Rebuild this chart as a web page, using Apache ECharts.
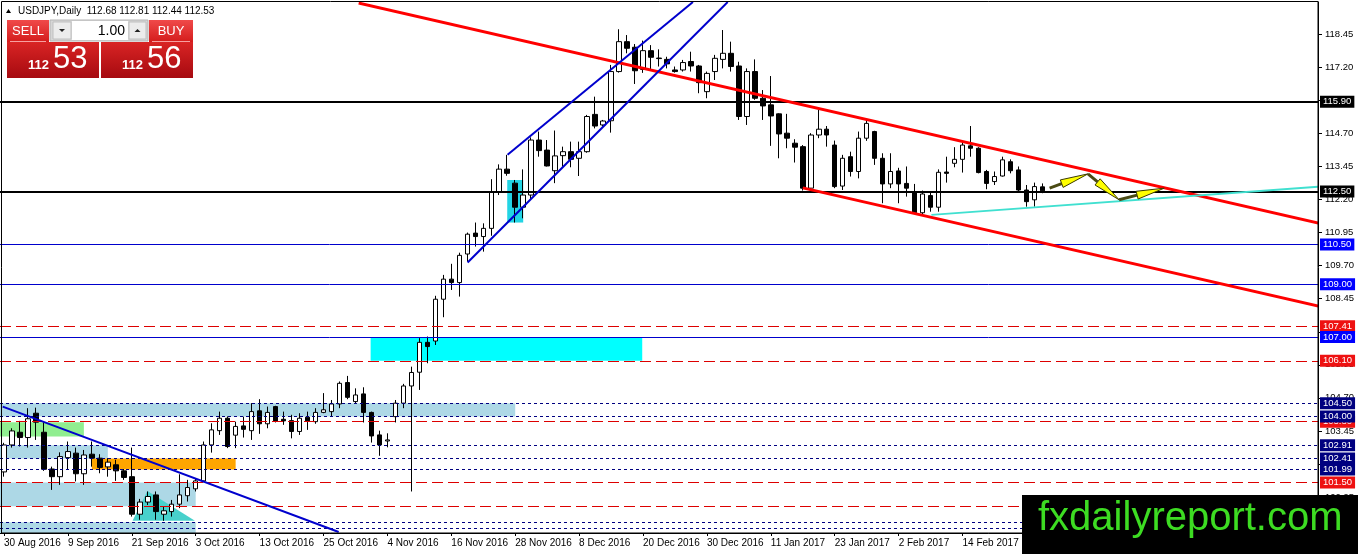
<!DOCTYPE html>
<html>
<head>
<meta charset="utf-8">
<title>USDJPY, Daily</title>
<script src="https://cdn.jsdelivr.net/npm/echarts@6.0.0/dist/echarts.min.js"></script>
<style>
  html, body { margin: 0; padding: 0; background: #fff; }
  #chart { width: 1358px; height: 554px; }
</style>
</head>
<body>
<div id="chart"></div>
<script>
// daily bars 30 Aug 2016 .. 28 Feb 2017, rows are [open, high, low, close]
const ohlc = [
  [101.90, 103.00, 101.72, 102.92], [102.92, 103.55, 102.82, 103.45], [103.40, 103.83, 102.86, 103.20],
  [103.20, 104.31, 102.82, 103.91], [104.12, 104.33, 103.11, 103.78], [103.40, 103.78, 101.94, 102.00],
  [102.01, 102.10, 101.22, 101.72], [101.72, 102.64, 101.41, 102.48], [102.44, 103.05, 101.98, 102.67],
  [102.61, 102.82, 101.54, 101.83], [101.83, 102.73, 101.41, 102.54], [102.57, 103.05, 102.10, 102.42],
  [102.42, 102.57, 101.85, 102.07], [102.09, 102.42, 101.72, 102.27], [102.17, 102.36, 101.56, 101.94],
  [101.94, 102.01, 101.60, 101.69], [101.72, 102.82, 100.21, 100.30], [100.30, 100.88, 100.09, 100.76],
  [100.76, 101.16, 100.65, 100.97], [101.03, 101.16, 100.09, 100.40], [100.30, 100.59, 100.05, 100.43],
  [100.40, 100.84, 100.21, 100.68], [100.68, 101.81, 100.53, 101.03], [101.00, 101.60, 100.78, 101.31],
  [101.26, 101.66, 101.16, 101.56], [101.56, 103.05, 101.51, 102.92], [102.92, 103.74, 102.63, 103.49],
  [103.46, 104.18, 103.30, 103.93], [103.93, 104.00, 102.80, 102.86], [103.29, 103.80, 102.80, 103.62],
  [103.64, 103.99, 103.20, 103.51], [103.46, 104.50, 103.11, 104.18], [104.21, 104.65, 103.34, 103.72],
  [103.72, 104.37, 103.55, 104.15], [104.37, 104.40, 103.77, 103.83], [103.89, 104.18, 103.68, 103.83],
  [103.84, 104.06, 103.17, 103.43], [103.43, 104.12, 103.30, 103.93], [103.97, 104.18, 103.49, 103.83],
  [103.80, 104.31, 103.72, 104.15], [104.15, 104.88, 104.12, 104.25], [104.18, 104.62, 103.99, 104.47],
  [104.47, 105.32, 104.31, 105.25], [105.28, 105.53, 104.65, 104.72], [104.56, 105.06, 104.47, 104.81],
  [104.85, 105.10, 103.77, 104.15], [104.15, 104.18, 103.01, 103.26], [103.30, 103.46, 102.51, 102.92],
  [103.07, 103.36, 102.83, 103.11], [103.99, 104.62, 103.77, 104.50], [104.50, 105.23, 104.31, 105.15],
  [105.15, 105.88, 101.16, 105.66], [105.67, 106.96, 105.00, 106.80], [106.80, 107.02, 106.01, 106.64],
  [106.85, 108.56, 106.70, 108.43], [108.43, 109.35, 107.75, 109.19], [109.19, 109.77, 108.78, 109.06],
  [109.06, 110.19, 108.53, 110.09], [110.14, 110.95, 109.85, 110.89], [110.93, 111.33, 110.42, 110.80],
  [110.80, 111.30, 110.23, 111.11], [111.11, 112.97, 110.83, 112.48], [112.48, 113.53, 112.37, 113.35],
  [113.35, 113.89, 113.10, 113.19], [112.82, 112.94, 111.33, 111.91], [111.91, 113.34, 111.49, 112.37],
  [112.37, 114.55, 112.20, 114.45], [114.45, 114.77, 113.82, 114.05], [114.07, 114.45, 113.45, 113.47],
  [113.29, 114.81, 112.82, 113.85], [113.86, 114.20, 113.44, 114.01], [114.01, 114.39, 113.42, 113.72],
  [113.76, 114.39, 113.09, 114.01], [114.01, 115.40, 113.97, 115.34], [115.42, 116.09, 114.89, 114.98],
  [115.02, 115.21, 114.96, 115.17], [115.18, 117.29, 114.73, 117.04], [117.04, 118.64, 117.00, 118.17],
  [118.17, 118.42, 117.73, 117.92], [117.96, 118.08, 116.57, 117.07], [117.12, 118.21, 116.99, 117.83],
  [117.83, 118.04, 117.12, 117.58], [117.55, 117.88, 117.23, 117.53], [117.50, 117.60, 117.16, 117.33],
  [117.10, 117.23, 117.00, 117.04], [117.10, 117.48, 117.04, 117.38], [117.42, 117.79, 117.04, 117.25],
  [117.25, 117.29, 116.22, 116.62], [116.28, 117.04, 116.03, 116.97], [117.04, 117.67, 116.72, 117.54],
  [117.50, 118.61, 117.16, 117.73], [117.73, 118.17, 117.04, 117.23], [117.25, 117.41, 115.21, 115.34],
  [115.34, 117.16, 115.02, 117.04], [117.04, 117.50, 115.97, 116.03], [116.03, 116.34, 115.21, 115.74],
  [115.78, 116.87, 114.23, 115.36], [115.44, 115.46, 113.76, 114.68], [114.71, 115.44, 114.14, 114.52],
  [114.33, 114.48, 113.60, 114.18], [114.20, 114.26, 112.54, 112.63], [112.63, 114.71, 112.60, 114.64],
  [114.64, 115.59, 114.52, 114.86], [114.86, 114.98, 114.20, 114.64], [114.26, 114.43, 112.63, 112.69],
  [112.71, 113.89, 112.56, 113.76], [113.82, 114.01, 113.07, 113.26], [113.26, 114.77, 113.00, 114.52],
  [114.52, 115.25, 114.42, 115.08], [114.77, 114.80, 113.51, 113.76], [113.76, 113.95, 112.06, 112.79],
  [112.79, 113.95, 112.63, 113.26], [113.28, 113.40, 112.06, 112.79], [112.81, 113.45, 112.31, 112.63],
  [112.50, 112.79, 111.68, 111.70], [111.70, 112.54, 111.58, 112.41], [112.35, 112.50, 111.74, 111.91],
  [111.91, 113.34, 111.74, 113.23], [113.24, 113.82, 112.84, 113.19], [113.57, 114.18, 113.42, 113.72],
  [113.72, 114.39, 113.22, 114.26], [114.23, 114.98, 113.82, 114.14], [114.14, 114.18, 113.19, 113.22],
  [113.26, 113.32, 112.59, 112.81], [112.88, 113.26, 112.75, 113.07], [113.09, 113.82, 113.07, 113.70],
  [113.63, 113.72, 113.19, 113.29], [113.32, 113.45, 112.50, 112.56], [112.56, 112.75, 111.93, 112.12],
  [112.19, 112.84, 111.93, 112.69], [112.68, 112.81, 112.44, 112.53]
];

// one date label every 8 bars, starting at bar 0
const dateLabels = [
  '30 Aug 2016', '9 Sep 2016', '21 Sep 2016', '3 Oct 2016', '13 Oct 2016', '25 Oct 2016',
  '4 Nov 2016', '16 Nov 2016', '28 Nov 2016', '8 Dec 2016', '20 Dec 2016', '30 Dec 2016',
  '11 Jan 2017', '23 Jan 2017', '2 Feb 2017', '14 Feb 2017'
];

const priceTicks = [118.45, 117.20, 115.95, 114.70, 113.45, 112.20, 110.95, 109.70,
  108.45, 107.20, 105.95, 104.70, 103.45, 102.20, 100.95, 99.70];

// horizontal levels: [price, kind, label shown]
const levels = [
  [115.90, 'black', true], [112.50, 'black', true], [110.50, 'blue', true], [109.00, 'blue', true],
  [107.41, 'red', true], [107.00, 'blue', true], [106.10, 'red', true], [104.50, 'navy', true],
  [103.80, 'red', true], [104.00, 'navy', true], [102.91, 'navy', true], [102.41, 'navy', true],
  [101.99, 'navy', true], [101.50, 'red', true], [100.60, 'red', false], [100.00, 'navy', false],
  [99.77, 'navy', false]
];

// rectangles: [from bar, to bar, low, high, colour]
const zones = [
  [-1, 64, 104.00, 104.50, '#add8e6'],
  [-1, 13, 102.41, 102.91, '#add8e6'],
  [-1, 24, 100.60, 101.50, '#add8e6'],
  [-1, 24, 99.50, 100.00, '#add8e6'],
  [-1, 10, 103.24, 103.78, '#90ee90'],
  [11, 29, 101.99, 102.41, '#ffa500'],
  [45.9, 79.9, 106.10, 107.00, '#00ffff'],
  [63.0, 65.0, 111.33, 112.94, '#22d4e4']
];

// triangle [bar, price] corners
const triangles = [
  [[16.1, 100.05], [17.96, 101.18], [23.9, 100.05]]
];

// trend lines: [bar1, price1, bar2, price2, colour, width, extend right]
const trendLines = [
  [44.4, 119.63, 164.4, 111.32, '#ff0000', 3, true],
  [100.0, 112.64, 164.4, 108.18, '#ff0000', 3, true],
  [63.04, 113.89, 86.25, 119.67, '#0000cd', 2, false],
  [58.04, 109.82, 90.6, 119.67, '#0000cd', 2, false],
  [-0.16, 104.37, 41.9, 99.63, '#0000cd', 2, false],
  [116.1, 111.62, 164.4, 112.68, '#40e0d0', 2, true]
];

// projected path arrows: [bar1, price1, bar2, price2]
const arrows = [
  [130.9, 112.63, 135.7, 113.17],
  [135.7, 113.17, 139.6, 112.19],
  [139.6, 112.19, 145.25, 112.63]
];

const barCount = 165;
const categories = Array.from({ length: barCount }, (_, i) => String(i));
const font = 'Liberation Sans, Arial, sans-serif';

const levelStyle = {
  black: { color: '#000000', width: 2, type: 'solid', bg: '#000000' },
  blue: { color: '#0000cd', width: 1, type: 'solid', bg: '#0000ff' },
  red: { color: '#dd0000', width: 1, type: [11, 5], bg: '#ee1111' },
  navy: { color: '#000080', width: 1, type: [3, 3], bg: '#000080' }
};

// bar index (may be fractional) + price -> pixel
function px(api, bar, price) {
  const base = api.coord([0, price]);
  return [base[0] + bar * api.size([1, 0])[0], base[1]];
}

const chart = echarts.init(document.getElementById('chart'));

const option = {
  animation: false,
  backgroundColor: '#ffffff',
  grid: { left: -1, right: 40, top: 2, bottom: 21 },
  xAxis: {
    type: 'category',
    data: categories,
    boundaryGap: true,
    axisLine: { lineStyle: { color: '#000', width: 1 } },
    axisTick: {
      show: true, length: 3, alignWithLabel: true,
      interval: (i) => i % 8 === 0 && i / 8 < dateLabels.length,
      lineStyle: { color: '#000' }
    },
    axisLabel: {
      interval: (i) => i % 8 === 0 && i / 8 < dateLabels.length,
      formatter: (v, i) => dateLabels[i / 8] || '',
      align: 'left', margin: 5,
      color: '#000', fontSize: 10, fontFamily: font
    },
    splitLine: { show: false }
  },
  yAxis: {
    type: 'value',
    position: 'right',
    scale: true,
    min: 99.59,
    max: 119.67,
    axisLine: { show: true, lineStyle: { color: '#000', width: 1 } },
    axisTick: { show: true, length: 4, customValues: priceTicks, lineStyle: { color: '#000' } },
    axisLabel: {
      customValues: priceTicks,
      formatter: (v) => v.toFixed(2),
      margin: 7, color: '#000', fontSize: 9.5, fontFamily: font
    },
    splitLine: { show: false }
  },
  series: [
    {
      type: 'custom',
      name: 'zones',
      z: 1,
      clip: true,
      silent: true,
      data: zones.map((z, k) => [k, z[2]]),
      renderItem: (params, api) => {
        const z = zones[params.dataIndex];
        const a = px(api, z[0], z[3]);
        const b = px(api, z[1], z[2]);
        return {
          type: 'rect',
          shape: { x: a[0], y: a[1], width: b[0] - a[0], height: b[1] - a[1] },
          style: { fill: z[4] }
        };
      }
    },
    {
      type: 'custom',
      name: 'triangles',
      z: 1,
      clip: true,
      silent: true,
      data: triangles.map((t, k) => [k, t[0][1]]),
      renderItem: (params, api) => {
        const t = triangles[params.dataIndex];
        return {
          type: 'polygon',
          shape: { points: t.map((p) => px(api, p[0], p[1])) },
          style: { fill: '#48d1cc' }
        };
      }
    },
    {
      type: 'candlestick',
      name: 'USDJPY',
      z: 2,
      barWidth: 5,
      data: ohlc.map((r) => [r[0], r[3], r[2], r[1]]),
      itemStyle: {
        color: '#ffffff', color0: '#000000',
        borderColor: '#000000', borderColor0: '#000000', borderWidth: 1
      },
      markLine: {
        silent: true,
        symbol: ['none', 'none'],
        animation: false,
        data: levels.map((l) => {
          const s = levelStyle[l[1]];
          return {
            yAxis: l[0],
            lineStyle: { color: s.color, width: s.width, type: s.type },
            label: {
              show: l[2],
              position: 'end',
              distance: 2,
              formatter: l[0].toFixed(2),
              color: '#ffffff',
              backgroundColor: s.bg,
              padding: [1, 3, 1, 3],
              fontSize: 9.5,
              fontFamily: font
            }
          };
        })
      }
    },
    {
      type: 'custom',
      name: 'trend lines',
      z: 5,
      clip: true,
      silent: true,
      data: trendLines.map((t, k) => [k, t[1]]),
      renderItem: (params, api) => {
        const t = trendLines[params.dataIndex];
        const a = px(api, t[0], t[1]);
        let b = px(api, t[2], t[3]);
        if (t[6]) {
          const far = px(api, 170, t[3])[0];
          const k = (far - a[0]) / (b[0] - a[0]);
          b = [far, a[1] + (b[1] - a[1]) * k];
        }
        return {
          type: 'line',
          shape: { x1: a[0], y1: a[1], x2: b[0], y2: b[1] },
          style: { stroke: t[4], lineWidth: t[5] }
        };
      }
    },
    {
      type: 'custom',
      name: 'arrows',
      z: 6,
      clip: true,
      silent: true,
      data: arrows.map((r, k) => [k, r[1]]),
      renderItem: (params, api) => {
        const r = arrows[params.dataIndex];
        const [x1, y1] = px(api, r[0], r[1]);
        const [x2, y2] = px(api, r[2], r[3]);
        const len = Math.hypot(x2 - x1, y2 - y1);
        const ux = (x2 - x1) / len, uy = (y2 - y1) / len;
        const head = Math.min(28, len * 0.7), hw = 4;
        const bx = x2 - ux * head, by = y2 - uy * head;
        return {
          type: 'group',
          children: [
            { type: 'line', shape: { x1, y1, x2: bx, y2: by }, style: { stroke: '#4a4a14', lineWidth: 3 } },
            {
              type: 'polygon',
              shape: { points: [[x2, y2], [bx - uy * hw, by + ux * hw], [bx + uy * hw, by - ux * hw]] },
              style: { fill: '#ffff00', stroke: '#3a3a00', lineWidth: 1 }
            }
          ]
        };
      }
    }
  ],
  graphic: [
    // chart frame
    { type: 'rect', z: 50, silent: true, shape: { x: 1.5, y: 1.5, width: 1316.5, height: 531.5 },
      style: { fill: 'none', stroke: '#000', lineWidth: 1 } },
    // title line
    { type: 'polygon', z: 100, shape: { points: [[6, 13], [8.5, 9], [11, 13]] }, style: { fill: '#000' } },
    { type: 'text', z: 100, x: 18, y: 11,
      style: { text: 'USDJPY,Daily  112.68 112.81 112.44 112.53', font: '10px ' + font, fill: '#000', verticalAlign: 'middle' } },
    // one-click trading panel
    { type: 'rect', z: 100, shape: { x: 7, y: 20, width: 42, height: 22 },
      style: { fill: new echarts.graphic.LinearGradient(0, 0, 0, 1, [{ offset: 0, color: '#f04a4a' }, { offset: 1, color: '#d41c1c' }]) } },
    { type: 'rect', z: 100, shape: { x: 149, y: 20, width: 44, height: 22 },
      style: { fill: new echarts.graphic.LinearGradient(0, 0, 0, 1, [{ offset: 0, color: '#f04a4a' }, { offset: 1, color: '#d41c1c' }]) } },
    { type: 'rect', z: 100, shape: { x: 7, y: 42, width: 92, height: 36 },
      style: { fill: new echarts.graphic.LinearGradient(0, 0, 0, 1, [{ offset: 0, color: '#d92424' }, { offset: 1, color: '#a60a10' }]) } },
    { type: 'rect', z: 100, shape: { x: 101, y: 42, width: 92, height: 36 },
      style: { fill: new echarts.graphic.LinearGradient(0, 0, 0, 1, [{ offset: 0, color: '#d92424' }, { offset: 1, color: '#a60a10' }]) } },
    { type: 'line', z: 101, shape: { x1: 10, y1: 41.5, x2: 46, y2: 41.5 }, style: { stroke: '#f7a0a0', lineWidth: 1 } },
    { type: 'line', z: 101, shape: { x1: 152, y1: 41.5, x2: 190, y2: 41.5 }, style: { stroke: '#f7a0a0', lineWidth: 1 } },
    { type: 'rect', z: 100, shape: { x: 50, y: 20, width: 98, height: 21 }, style: { fill: '#d6d6d6', stroke: '#b4b4b4', lineWidth: 1 } },
    { type: 'rect', z: 101, shape: { x: 53, y: 22, width: 18, height: 17 }, style: { fill: '#ececec', stroke: '#c0c0c0', lineWidth: 1 } },
    { type: 'rect', z: 101, shape: { x: 72, y: 21, width: 56, height: 19 }, style: { fill: '#ffffff' } },
    { type: 'rect', z: 101, shape: { x: 129, y: 22, width: 17, height: 17 }, style: { fill: '#ececec', stroke: '#c0c0c0', lineWidth: 1 } },
    { type: 'polygon', z: 102, shape: { points: [[59, 29], [65, 29], [62, 32]] }, style: { fill: '#222' } },
    { type: 'polygon', z: 102, shape: { points: [[134.5, 32], [140.5, 32], [137.5, 29]] }, style: { fill: '#222' } },
    { type: 'text', z: 102, x: 125, y: 31,
      style: { text: '1.00', font: '14px ' + font, fill: '#000', align: 'right', verticalAlign: 'middle' } },
    { type: 'text', z: 102, x: 28, y: 31,
      style: { text: 'SELL', font: '13px ' + font, fill: '#fff', align: 'center', verticalAlign: 'middle' } },
    { type: 'text', z: 102, x: 171, y: 31,
      style: { text: 'BUY', font: '13px ' + font, fill: '#fff', align: 'center', verticalAlign: 'middle' } },
    { type: 'text', z: 102, x: 28, y: 65,
      style: { text: '112', font: 'bold 13px ' + font, fill: '#fff', verticalAlign: 'middle' } },
    { type: 'text', z: 102, x: 53, y: 59,
      style: { text: '53', font: '31px ' + font, fill: '#fff', verticalAlign: 'middle' } },
    { type: 'text', z: 102, x: 122, y: 65,
      style: { text: '112', font: 'bold 13px ' + font, fill: '#fff', verticalAlign: 'middle' } },
    { type: 'text', z: 102, x: 147, y: 59,
      style: { text: '56', font: '31px ' + font, fill: '#fff', verticalAlign: 'middle' } },
    // site watermark
    { type: 'rect', z: 200, shape: { x: 1022, y: 495, width: 336, height: 59 }, style: { fill: '#000' } },
    { type: 'text', z: 201, x: 1038, y: 519,
      style: { text: 'fxdailyreport.com', font: '40px ' + font, fill: '#3ddc22', verticalAlign: 'middle' } }
  ]
};

chart.setOption(option);
</script>
</body>
</html>
